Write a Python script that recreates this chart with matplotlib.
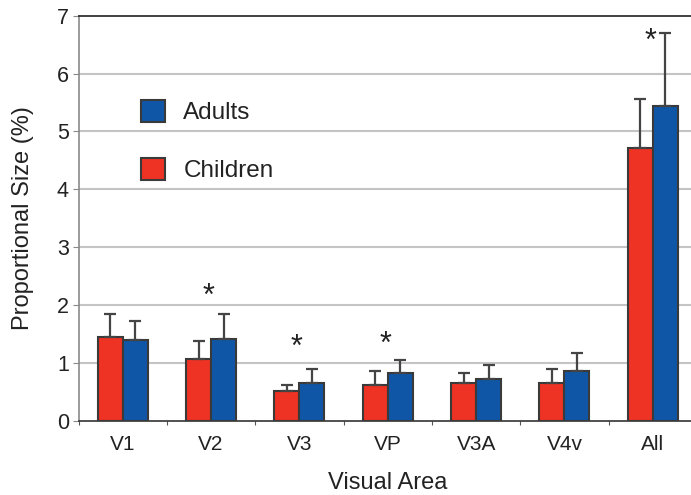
import matplotlib
matplotlib.use("Agg")
import matplotlib.pyplot as plt
import numpy as np
from matplotlib.patches import Patch

categories = ["V1", "V2", "V3", "VP", "V3A", "V4v", "All"]
children = [1.45, 1.07, 0.52, 0.62, 0.66, 0.66, 4.72]
children_err = [0.39, 0.30, 0.10, 0.24, 0.16, 0.23, 0.84]
adults = [1.39, 1.41, 0.66, 0.82, 0.72, 0.86, 5.44]
adults_err = [0.34, 0.43, 0.23, 0.23, 0.24, 0.31, 1.26]
star_cats = [1, 2, 3, 6]
star_y = [2.14, 1.25, 1.31, 6.55]
yticks = [0, 1, 2, 3, 4, 5, 6, 7]

RED = "#EE3224"
BLUE = "#0F57A6"
EDGE = "#3a3a3a"
font = ["Liberation Sans", "DejaVu Sans"]

fig = plt.figure(figsize=(6.91, 4.95), dpi=100)
W, H = 691, 495
left, right, top, bottom = 78.5, 697.0, 15.7, 420.7
ax = fig.add_axes([left / W, (H - bottom) / H, (right - left) / W, (bottom - top) / H])

x = np.arange(len(categories))
bw = 0.283
err_kw = dict(ecolor="#444444", elinewidth=1.6, capsize=4.5, capthick=1.6)
ax.bar(x - bw / 2, children, bw, color=RED, edgecolor=EDGE, linewidth=1.5, zorder=3,
       yerr=[np.zeros(len(x)), children_err], error_kw=err_kw)
ax.bar(x + bw / 2, adults, bw, color=BLUE, edgecolor=EDGE, linewidth=1.5, zorder=3,
       yerr=[np.zeros(len(x)), adults_err], error_kw=err_kw)

for c, yy in zip(star_cats, star_y):
    ax.text(c - 0.03, yy, "*", ha="center", va="center", fontsize=22,
            family=font, color="#222222", zorder=4)

ax.set_xlim(-0.5, len(categories) - 0.5)
ax.set_ylim(0, 7)
ax.set_yticks(yticks)
ax.set_yticklabels([str(t) for t in yticks], family=font, fontsize=15.5, color="#222222")
ax.set_xticks(x)
ax.set_xticklabels(categories, family=font, fontsize=15, color="#222222")
ax.set_xticks(np.arange(len(categories) + 1) - 0.5, minor=True)
ax.tick_params(axis="x", which="major", length=0, pad=10)
ax.tick_params(axis="x", which="minor", length=3, width=0.8, color="#555555", direction="out")
ax.tick_params(axis="y", length=4, width=0.8, color="#888888", pad=3)

for yv in yticks[1:-1]:
    ax.axhline(yv, color="#c4c4c4", linewidth=1.5, zorder=1)

ax.spines["top"].set_color("#222222")
ax.spines["top"].set_linewidth(1.2)
ax.spines["right"].set_visible(False)
ax.spines["left"].set_color("#8a8a8a")
ax.spines["left"].set_linewidth(1.2)
ax.spines["bottom"].set_color("#333333")
ax.spines["bottom"].set_linewidth(1.2)

ax.set_ylabel("Proportional Size (%)", family=font, fontsize=17, color="#222222", labelpad=16)
ax.set_xlabel("Visual Area", family=font, fontsize=17, color="#222222", labelpad=13)

handles = [Patch(facecolor=BLUE, edgecolor=EDGE, linewidth=1.5, label="Adults"),
           Patch(facecolor=RED, edgecolor=EDGE, linewidth=1.5, label="Children")]
leg = ax.legend(handles=handles, loc="upper left", bbox_to_anchor=(136 / W, 1 - 95 / H),
                bbox_transform=fig.transFigure, frameon=False,
                prop={"family": font, "size": 17.5}, handlelength=1.0, handleheight=1.0,
                handletextpad=0.75, labelspacing=1.4, borderaxespad=0, borderpad=0.2)
for t in leg.get_texts():
    t.set_color("#222222")

fig.savefig("out.png", dpi=100)
